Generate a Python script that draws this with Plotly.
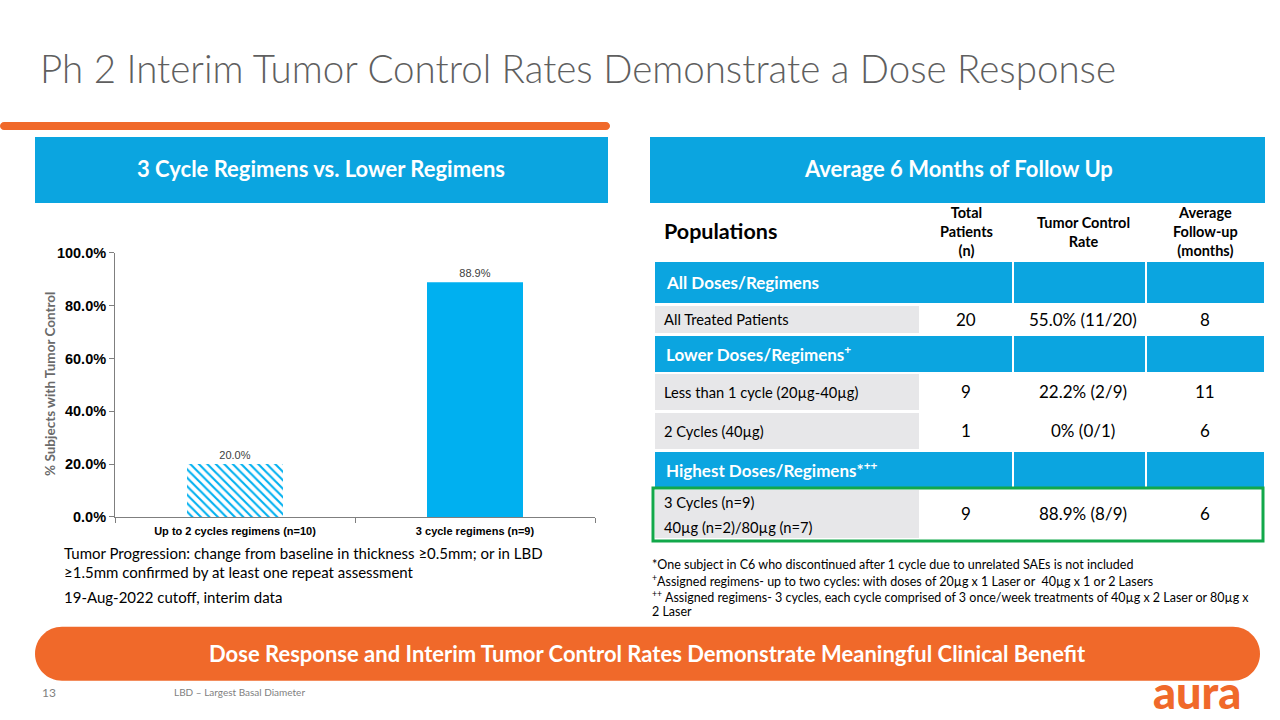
import plotly.graph_objects as go

W, H = 1280, 720

# ---------------- data ----------------
categories = ["Up to 2 cycles regimens (n=10)", "3 cycle regimens (n=9)"]
tumor_control_pct = [20.0, 88.9]
y_ticks = [0, 20, 40, 60, 80, 100]

row_labels = ["All Doses/Regimens", "All Treated Patients", "Lower Doses/Regimens<sup>+</sup>",
              "Less than 1 cycle (20µg-40µg)", "2 Cycles (40µg)", "Highest Doses/Regimens*<sup>++</sup>",
              "3 Cycles (n=9)<br>40µg (n=2)/80µg (n=7)"]
row_is_section = [True, False, True, False, False, True, False]
total_patients = ["", "20", "", "9", "1", "", "9"]
control_rate = ["", "55.0% (11/20)", "", "22.2% (2/9)", "0% (0/1)", "", "88.9% (8/9)"]
followup_months = ["", "8", "", "11", "6", "", "6"]
col_headers = ["Total<br>Patients<br>(n)", "Tumor Control<br>Rate", "Average<br>Follow-up<br>(months)"]

title_text = "Ph 2 Interim Tumor Control Rates Demonstrate a Dose Response"
left_header = "3 Cycle Regimens vs. Lower Regimens"
right_header = "Average 6 Months of Follow Up"
notes_left = ["Tumor Progression: change from baseline in thickness ≥0.5mm; or in LBD",
              "≥1.5mm confirmed by at least one repeat assessment",
              "19-Aug-2022 cutoff, interim data"]
notes_right = ["*One subject in C6 who discontinued after 1 cycle due to unrelated SAEs is not included",
               "<sup>+</sup>Assigned regimens- up to two cycles: with doses of 20µg x 1 Laser or  40µg x 1 or 2 Lasers",
               "<sup>++</sup> Assigned regimens- 3 cycles, each cycle comprised of 3 once/week treatments of 40µg x 2 Laser or 80µg x",
               "2 Laser"]
banner_text = "Dose Response and Interim Tumor Control Rates Demonstrate Meaningful Clinical Benefit"

# ---------------- styles ----------------
BLUE = "#0BA5E0"
BAR_BLUE = "#00B0F0"
ORANGE = "#F0692A"
GRAY_CELL = "#E7E7E9"
GREEN = "#12A84A"
CAL = "Lato, Open Sans, sans-serif"
ARIAL = "Liberation Sans, Arial, sans-serif"
NARROW = "Liberation Sans Narrow, Arial Narrow, Liberation Sans, sans-serif"

# vertical calibration of the rendered page (observed: out = 0.978*y + 8)
V_SCALE, V_OFF = 0.978, 8.0


def X(px):
    return px / W


def Y(py):
    return 1 - ((py - V_OFF) / V_SCALE) / H


shapes = []
annos = []


def rect(x0, y0, x1, y1, color, line=None, lw=0, layer="below"):
    shapes.append(dict(type="rect", xref="paper", yref="paper", x0=X(x0), x1=X(x1), y0=Y(y1), y1=Y(y0),
                       fillcolor=color, line=dict(color=line or "rgba(0,0,0,0)", width=lw), layer=layer))


def pill(x0, y0, x1, y1, color):
    r = (y1 - y0) / 2
    k = 0.5523
    pts = [
        f"M{X(x0 + r)},{Y(y0)}",
        f"L{X(x1 - r)},{Y(y0)}",
        f"C{X(x1 - r + k * r)},{Y(y0)} {X(x1)},{Y(y0 + r - k * r)} {X(x1)},{Y(y0 + r)}",
        f"C{X(x1)},{Y(y0 + r + k * r)} {X(x1 - r + k * r)},{Y(y1)} {X(x1 - r)},{Y(y1)}",
        f"L{X(x0 + r)},{Y(y1)}",
        f"C{X(x0 + r - k * r)},{Y(y1)} {X(x0)},{Y(y0 + r + k * r)} {X(x0)},{Y(y0 + r)}",
        f"C{X(x0)},{Y(y0 + r - k * r)} {X(x0 + r - k * r)},{Y(y0)} {X(x0 + r)},{Y(y0)} Z",
    ]
    shapes.append(dict(type="path", xref="paper", yref="paper", path=" ".join(pts),
                       fillcolor=color, line=dict(width=0), layer="below"))


def text(x, y, s, size, color="black", bold=False, xanchor="left", family=CAL, weight=None, angle=0):
    if not s:
        return
    f = dict(family=family, size=size, color=color)
    if weight is not None:
        f["weight"] = weight
    elif bold:
        f["weight"] = "bold"
    annos.append(dict(xref="paper", yref="paper", x=X(x), y=Y(y), text=s, showarrow=False,
                      xanchor=xanchor, yanchor="middle", font=f, align=xanchor if xanchor != "center" else "center",
                      textangle=angle))


# title
text(38, 68, title_text, 38.5, color="#5F5F5F", weight=300)

# orange line
pill(0, 122, 610, 130, ORANGE)

# header boxes
rect(35, 137, 608, 203, BLUE)
rect(650, 137, 1265, 203, BLUE)
text(321, 169, left_header, 22, color="white", bold=True, xanchor="center")
text(958, 169, right_header, 22, color="white", bold=True, xanchor="center")

# ---------------- table ----------------
col_x = [(655, 1012), (1014, 1145), (1147, 1264)]
label_cell = (655, 919)
val_centers = [966, 1083, 1205]
row_bounds = [(262, 303), (306, 333), (336, 372), (374, 410), (413, 449), (452, 487), (490, 538)]

text(662, 231, "Populations", 21.5, bold=True)
for cx, hdr in zip(val_centers, col_headers):
    text(cx, 232, hdr, 14.5, bold=True, xanchor="center")

for i, lab in enumerate(row_labels):
    y0, y1 = row_bounds[i]
    ym = (y0 + y1) / 2
    if row_is_section[i]:
        rect(col_x[0][0], y0, col_x[0][1], y1, BLUE)
        rect(col_x[1][0], y0, col_x[1][1], y1, BLUE)
        rect(col_x[2][0], y0, col_x[2][1], y1, BLUE)
        text(664, ym, lab, 17, color="white", bold=True)
    else:
        rect(label_cell[0], y0, label_cell[1], y1, GRAY_CELL)
        parts = lab.split("<br>")
        if len(parts) == 1:
            text(662, ym, lab, 14.7)
        else:
            text(662, ym - 12, parts[0], 14.7)
            text(662, ym + 13, parts[1], 14.7)
        for cx, v in zip(val_centers, [total_patients[i], control_rate[i], followup_months[i]]):
            text(cx, ym, v, 17, xanchor="center")

# green highlight
shapes.append(dict(type="rect", xref="paper", yref="paper", x0=X(653), x1=X(1263), y0=Y(541), y1=Y(488),
                   line=dict(color=GREEN, width=3), fillcolor="rgba(0,0,0,0)", layer="above"))

# notes
for s, y in zip(notes_left, [553, 572, 597]):
    text(62, y, s, 15)
for s, y in zip(notes_right, [565, 581, 597, 612]):
    text(650, y, s, 12.5)

# bottom banner
pill(35, 627, 1260, 681, ORANGE)
text(647, 654, banner_text, 22, color="white", bold=True, xanchor="center")

text(40, 693, "13", 12, color="#7F7F7F")
text(172, 692, "LBD – Largest Basal Diameter", 10, color="#7F7F7F")
text(1197, 692, "aura", 45, color=ORANGE, xanchor="center", weight=900)

# chart y-axis title
text(50, 384, "% Subjects with Tumor Control", 13.5, color="#6A6A6A", bold=True, xanchor="center", angle=-90)

# ---------------- chart ----------------
fig = go.Figure()
fig.add_trace(go.Bar(
    x=categories, y=tumor_control_pct,
    marker=dict(color=[BAR_BLUE, BAR_BLUE], line=dict(width=0),
                pattern=dict(shape=["\\", ""], fgcolor=[BAR_BLUE, BAR_BLUE], bgcolor=["white", BAR_BLUE],
                             size=6, solidity=0.35, fillmode="replace")),
    texttemplate="%{y:.1f}%", textposition="outside", cliponaxis=False,
    textfont=dict(family=NARROW, size=11, color="#404040"),
    width=0.4, showlegend=False, hoverinfo="skip",
))

fig.update_layout(
    width=W, height=H, margin=dict(l=0, r=0, t=0, b=0),
    paper_bgcolor="white", plot_bgcolor="white",
    shapes=shapes, annotations=annos,
    xaxis=dict(domain=[X(115), X(595)], showline=True, linecolor="#7F7F7F", linewidth=1,
               ticks="outside", tickson="boundaries", ticklen=5, tickcolor="#7F7F7F",
               ticklabelstandoff=4,
               tickfont=dict(family=NARROW, size=11, color="black", weight="bold"),
               showgrid=False, zeroline=False, fixedrange=True),
    yaxis=dict(domain=[Y(517), Y(253)], range=[0, 100], tickvals=y_ticks,
               ticktext=[f"{v:.1f}%" for v in y_ticks],
               showline=True, linecolor="#7F7F7F", linewidth=1, ticks="outside", ticklen=5,
               tickcolor="#7F7F7F", tickfont=dict(family=ARIAL, size=14.5, color="black", weight="bold"),
               showgrid=False, zeroline=False, fixedrange=True),
)

post = (
    "document.documentElement.style.margin='0';document.documentElement.style.padding='0';"
    "document.documentElement.style.overflow='hidden';document.documentElement.style.height='720px';"
    "document.body.style.margin='0';document.body.style.padding='0';"
    "document.body.style.overflow='hidden';document.body.style.height='720px';"
    "var d=document.getElementById('{plot_id}');d.style.position='fixed';d.style.top='0';d.style.left='0';"
)
fig.write_html("out.html", config={"displayModeBar": False}, post_script=post)
